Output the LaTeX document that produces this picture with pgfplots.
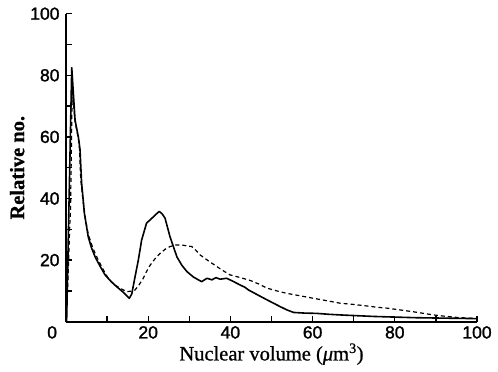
\documentclass[border=0pt]{standalone}
\usepackage{fontspec}
\setmainfont{Liberation Serif}[FakeBold=0.8]
\newfontfamily\tickfont{Liberation Sans}[FakeBold=1.5]
\usepackage{pgfplots}
\pgfplotsset{compat=1.18}
\begin{document}
\begin{tikzpicture}
\begin{axis}[
  scale only axis,
  width=411bp, height=308bp,
  xmin=0, xmax=100, ymin=0, ymax=100,
  axis lines=left,
  axis line style={-, line width=1.6bp},
  tick align=inside,
  major tick length=6bp,
  tick style={line width=1.3bp, black},
  xtick={0,10,...,100},
  xticklabels={\makebox[0pt][r]{0\hspace{9bp}},,20,,40,,60,,80,,100},
  ytick={0,10,...,100},
  yticklabels={,,20,,40,,60,,80,,100},
  /pgf/number format/assume math mode=true,
  ticklabel style={font=\tickfont\fontsize{17.5bp}{20bp}\selectfont},
  xticklabel style={yshift=-1bp},
  yticklabel style={xshift=-3bp},
  xlabel={Nuclear volume (\textit{μ}m\textsuperscript{3})},
  ylabel={\bfseries Relative no.},
  label style={font=\fontsize{20.5bp}{23bp}\selectfont},
  xlabel style={yshift=2bp},
  ylabel style={yshift=-1bp},
  clip=false,
]
\addplot[black, line width=1.6bp, line join=round] coordinates {
(0.15,0) (1.4,82.5) (2.2,65.5) (3.0,60) (3.4,56) (3.8,45) (4.5,35) (5.4,27.6) (6.2,24) (7.1,21) (8.3,18) (9.5,15.2) (11,13) (12.3,11.4) (14,9.5) (15.4,7.6) (16.0,9) (16.8,14.6) (17.6,20) (18.4,26.5) (19.6,32) (20.9,33.6) (22,35) (22.7,35.8) (23.4,35) (24.1,33.6) (25.3,27.6) (27,21) (28.2,18.3) (29.4,16.3) (31,14.5) (33,13) (34.3,14.1) (35.5,13.6) (36.5,14.3) (37.5,13.8) (39.1,14.1) (40.5,13.2) (42.4,11.9) (43.5,11.2) (44.4,10.3) (46.5,8.8) (48.9,7.1) (50.5,6.0) (52.1,4.9) (53.8,3.8) (55.4,3.0) (58,2.8) (61,2.7) (64,2.4) (66.7,2.2) (70,2.0) (75,1.7) (80,1.5) (85,1.3) (90,1.2) (95,1.1) (100,1)
};
\addplot[black, line width=1.2bp, dashed, dash pattern=on 4bp off 3bp] coordinates {
(0,0) (0.5,14) (0.9,31) (1.1,36) (1.35,60) (1.5,75) (2.2,65) (3.2,58) (3.6,46) (4.5,35) (5.4,28.5) (6.5,24) (7.5,21) (8.8,17.5) (10.3,14) (11.9,11.9) (13.5,10.6) (14.8,9.8) (16.0,9.9) (16.8,10.3) (17.8,12) (18.8,14.1) (19.6,16.3) (20.5,18.4) (21.7,20.5) (22.9,22.2) (24.1,23.5) (25.3,24.4) (26.7,24.9) (28.2,24.9) (29.5,24.6) (30.6,24.4) (31.6,23.2) (32.6,21.7) (34.6,19.8) (36.7,17.9) (38.3,16.5) (39.9,15.2) (42.5,14.3) (44.8,13.4) (46.8,12.3) (48.9,10.9) (51.3,10.0) (53.7,9.2) (57,8.4) (60.2,7.6) (63.5,6.8) (66.7,6.0) (70,5.6) (73.2,5.1) (75.6,4.7) (78.1,4.4) (81.4,3.8) (84.6,3.2) (87,2.7) (89.4,2.2) (92,1.8) (95,1.4) (100,1)
};
\coordinate (O) at (rel axis cs:0,0);
\end{axis}
\pgfresetboundingbox
\path (O) ++(-66bp,-50.3bp) rectangle ++(498bp,372bp);
\end{tikzpicture}
\end{document}
